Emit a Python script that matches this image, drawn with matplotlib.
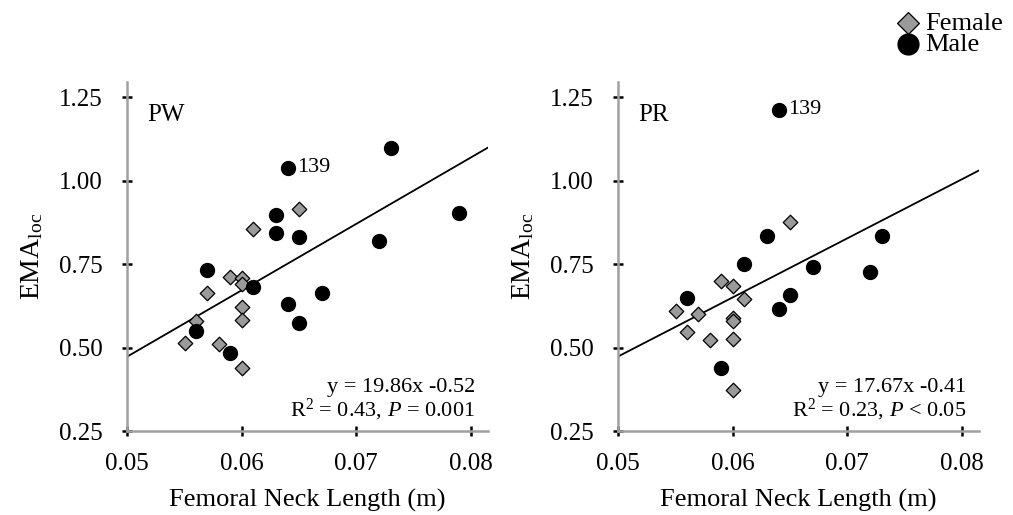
import matplotlib.pyplot as plt
import numpy as np

plt.rcParams['font.family'] = ['Liberation Serif', 'DejaVu Serif']
plt.rcParams['mathtext.fontset'] = 'custom'
plt.rcParams['mathtext.rm'] = 'Liberation Serif'
plt.rcParams['mathtext.it'] = 'Liberation Serif:italic'

# PW panel
pw_male_x = [0.064, 0.073, 0.079, 0.072, 0.063, 0.063, 0.065, 0.057, 0.061, 0.067, 0.064, 0.065, 0.056, 0.059]
pw_male_y = [1.038, 1.097, 0.903, 0.82, 0.896, 0.842, 0.83, 0.733, 0.68, 0.664, 0.63, 0.572, 0.55, 0.485]
pw_fem_x = [0.065, 0.061, 0.059, 0.060, 0.060, 0.057, 0.060, 0.060, 0.056, 0.055, 0.058, 0.060]
pw_fem_y = [0.915, 0.856, 0.71, 0.707, 0.69, 0.662, 0.62, 0.582, 0.578, 0.514, 0.51, 0.44]

# PR panel
pr_male_x = [0.064, 0.063, 0.061, 0.067, 0.072, 0.073, 0.056, 0.065, 0.064, 0.059]
pr_male_y = [1.212, 0.835, 0.75, 0.74, 0.725, 0.834, 0.647, 0.657, 0.615, 0.44]
pr_fem_x = [0.065, 0.059, 0.060, 0.061, 0.055, 0.057, 0.060, 0.060, 0.056, 0.058, 0.060, 0.060]
pr_fem_y = [0.875, 0.70, 0.683, 0.645, 0.608, 0.60, 0.588, 0.578, 0.545, 0.522, 0.525, 0.372]

panels = [
    ('PW', pw_male_x, pw_male_y, pw_fem_x, pw_fem_y, 19.86, -0.52,
     'y = 19.86x -0.52', r'R$^2$ = 0.43, $P$ = 0.001'),
    ('PR', pr_male_x, pr_male_y, pr_fem_x, pr_fem_y, 17.67, -0.41,
     'y = 17.67x -0.41', r'R$^2$ = 0.23, $P$ < 0.05'),
]
label_idx = 0  # specimen 139 is the first male in each list

fig = plt.figure(figsize=(10.13, 5.15), dpi=100)
ax_l = fig.add_axes([0.1257, 0.1631, 0.356, 0.6777])
ax_r = fig.add_axes([0.6104, 0.1631, 0.356, 0.6777])

for ax, (name, mx, my, fx, fy, slope, icpt, eq1, eq2) in zip([ax_l, ax_r], panels):
    xs = np.array([0.05, 0.0815])
    ax.plot(xs, slope * xs + icpt, color='black', lw=1.3, zorder=1)
    ax.scatter(fx, fy, marker='D', s=55, facecolor='#9a9a9a', edgecolor='black',
               linewidth=0.9, zorder=2, label='Female')
    ax.scatter(mx, my, marker='o', s=100, facecolor='black', edgecolor='black',
               zorder=3, label='Male')
    ax.annotate('139', (mx[label_idx], my[label_idx]), xytext=(7, 0),
                textcoords='offset points', va='center', fontsize=16)
    ax.text(0.055, 0.905, name, transform=ax.transAxes, fontsize=18, va='center')
    ax.text(0.964, 0.126, eq1, transform=ax.transAxes, fontsize=16, ha='right', va='center')
    ax.text(0.964, 0.06, eq2, transform=ax.transAxes, fontsize=16, ha='right', va='center')

    ax.set_xlim(0.05, 0.0815)
    ax.set_ylim(0.25, 1.295)
    ax.set_xticks([0.05, 0.06, 0.07, 0.08])
    ax.set_xticklabels(['0.05', '0.06', '0.07', '0.08'])
    ax.set_yticks([0.25, 0.5, 0.75, 1.0, 1.25])
    ax.set_yticklabels(['0.25', '0.50', '0.75', '1.00', '1.25'])
    ax.tick_params(direction='inout', length=7, width=1.8, color='black',
                   labelsize=18)
    ax.tick_params(axis='x', pad=12)
    ax.tick_params(axis='y', pad=14)
    for side in ['top', 'right']:
        ax.spines[side].set_visible(False)
    for side in ['left', 'bottom']:
        ax.spines[side].set_color('#a0a0a0')
        ax.spines[side].set_linewidth(1.8)
    ax.set_xlabel('Femoral Neck Length (m)', fontsize=19, labelpad=10)
    ax.set_ylabel(r'EMA$_{\mathrm{loc}}$', fontsize=20, labelpad=10)

handles, labels = ax_l.get_legend_handles_labels()
fig.legend(handles, labels, loc='upper right', bbox_to_anchor=(1.006, 1.008),
           frameon=False, fontsize=19, handletextpad=0.2, labelspacing=-0.1,
           borderaxespad=0.2, markerscale=1.5, handlelength=0.9)

fig.savefig('out.png', dpi=100)
